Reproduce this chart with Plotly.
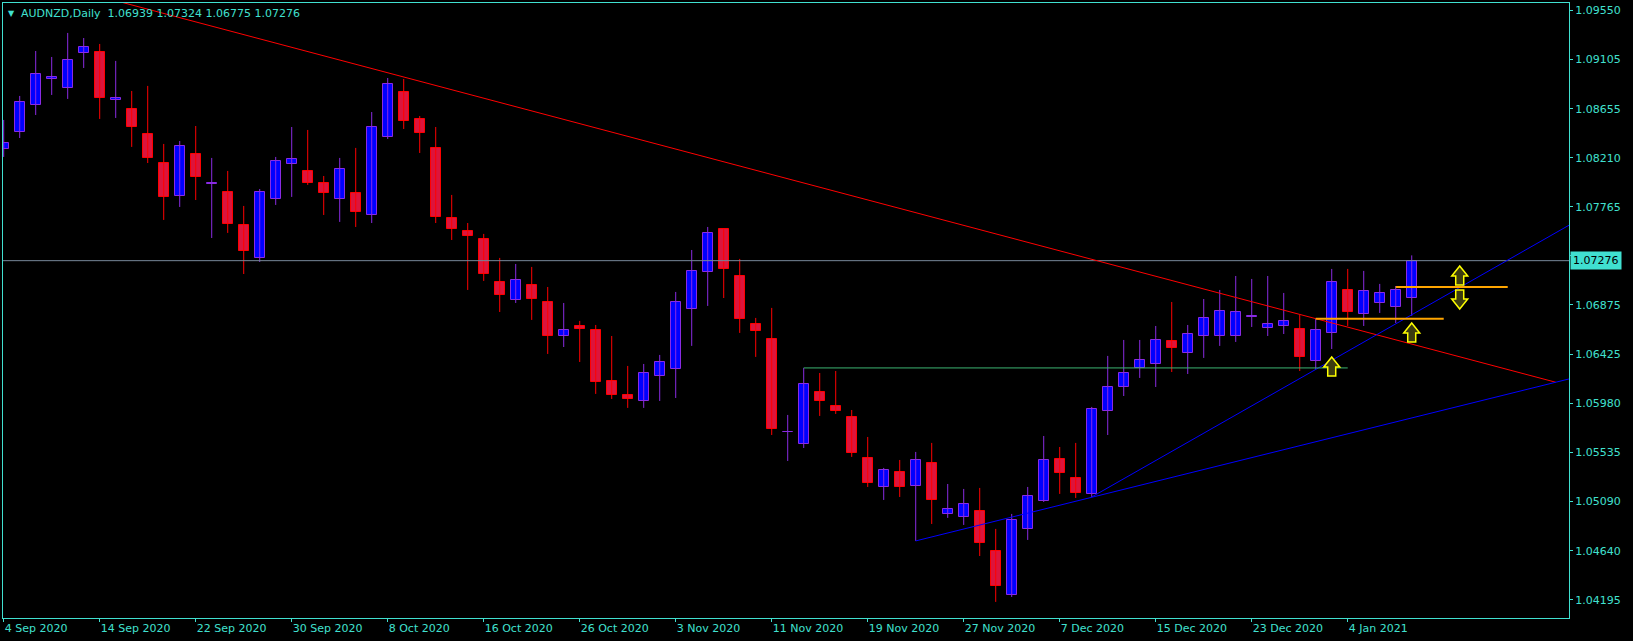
import plotly.graph_objects as go

# ---------------- data ----------------
symbol_title = "AUDNZD,Daily"
last_ohlc = ["1.06939", "1.07324", "1.06775", "1.07276"]

open_ = [1.08290, 1.08445, 1.08690, 1.08926, 1.08844, 1.09162, 1.09171, 1.08735, 1.08654, 1.08427,
         1.08163, 1.07864, 1.08245, 1.07973, 1.07900, 1.07600, 1.07301, 1.07836, 1.08154, 1.08091,
         1.07982, 1.07836, 1.07891, 1.07691, 1.08399, 1.08808, 1.08563, 1.08300, 1.07664, 1.07546,
         1.07473, 1.07083, 1.06919, 1.07055, 1.06901, 1.06592, 1.06683, 1.06647, 1.06184, 1.06057,
         1.06002, 1.06229, 1.06293, 1.06838, 1.07173, 1.07564, 1.07137, 1.06701, 1.06565, 1.05716,
         1.05611, 1.06084, 1.05957, 1.05857, 1.05484, 1.05221, 1.05357, 1.05230, 1.05439, 1.04976,
         1.04949, 1.05003, 1.04640, 1.04240, 1.04840, 1.05094, 1.05475, 1.05303, 1.05158, 1.05911,
         1.06129, 1.06302, 1.06338, 1.06547, 1.06438, 1.06592, 1.06592, 1.06592, 1.06769, 1.06665,
         1.06683, 1.06656, 1.06365, 1.06620, 1.07010, 1.06792, 1.06892, 1.06856, 1.06939]
high = [1.08554, 1.08772, 1.09180, 1.09126, 1.09344, 1.09298, 1.09244, 1.09090, 1.08817, 1.08863,
        1.08336, 1.08363, 1.08499, 1.08209, 1.08091, 1.07773, 1.07927, 1.08218, 1.08490, 1.08463,
        1.08045, 1.08209, 1.08300, 1.08626, 1.08935, 1.08926, 1.08590, 1.08490, 1.07873, 1.07618,
        1.07519, 1.07301, 1.07246, 1.07219, 1.07037, 1.06892, 1.06729, 1.06692, 1.06592, 1.06320,
        1.06338, 1.06420, 1.06992, 1.07373, 1.07582, 1.07568, 1.07292, 1.06756, 1.06847, 1.05875,
        1.06302, 1.06256, 1.06274, 1.05920, 1.05675, 1.05394, 1.05466, 1.05539, 1.05621, 1.05248,
        1.05203, 1.05212, 1.04840, 1.04976, 1.05221, 1.05684, 1.05584, 1.05621, 1.05948, 1.06411,
        1.06556, 1.06556, 1.06683, 1.06901, 1.06692, 1.06928, 1.07010, 1.07137, 1.07110, 1.07137,
        1.06983, 1.06783, 1.06747, 1.07201, 1.07201, 1.07183, 1.07065, 1.07046, 1.07324]
low = [1.08218, 1.08390, 1.08599, 1.08781, 1.08745, 1.09026, 1.08563, 1.08572, 1.08309, 1.08163,
       1.07646, 1.07764, 1.07827, 1.07482, 1.07528, 1.07155, 1.07264, 1.07782, 1.07855, 1.07964,
       1.07691, 1.07628, 1.07582, 1.07618, 1.08381, 1.08472, 1.08254, 1.07618, 1.07464, 1.07010,
       1.07092, 1.06810, 1.06892, 1.06738, 1.06429, 1.06492, 1.06356, 1.06066, 1.06020, 1.05939,
       1.05939, 1.06002, 1.06029, 1.06502, 1.06865, 1.06937, 1.06620, 1.06402, 1.05693, 1.05457,
       1.05575, 1.05866, 1.05884, 1.05494, 1.05221, 1.05103, 1.05130, 1.04731, 1.04885, 1.04940,
       1.04876, 1.04594, 1.04177, 1.04222, 1.04740, 1.05085, 1.05158, 1.05121, 1.05130, 1.05693,
       1.06047, 1.06211, 1.06129, 1.06265, 1.06247, 1.06393, 1.06502, 1.06538, 1.06674, 1.06592,
       1.06610, 1.06274, 1.06293, 1.06474, 1.06683, 1.06683, 1.06801, 1.06710, 1.06775]
close = [1.08345, 1.08717, 1.08972, 1.08944, 1.09099, 1.09217, 1.08754, 1.08754, 1.08490, 1.08209,
         1.07855, 1.08318, 1.08036, 1.07982, 1.07609, 1.07364, 1.07900, 1.08182, 1.08200, 1.07982,
         1.07891, 1.08109, 1.07718, 1.08490, 1.08881, 1.08545, 1.08436, 1.07673, 1.07564, 1.07500,
         1.07155, 1.06965, 1.07101, 1.06928, 1.06592, 1.06647, 1.06656, 1.06175, 1.06057, 1.06020,
         1.06256, 1.06356, 1.06901, 1.07183, 1.07528, 1.07201, 1.06747, 1.06638, 1.05748, 1.05721,
         1.06156, 1.06002, 1.05911, 1.05530, 1.05257, 1.05375, 1.05221, 1.05466, 1.05103, 1.05021,
         1.05067, 1.04713, 1.04322, 1.04921, 1.05139, 1.05466, 1.05348, 1.05167, 1.05929, 1.06129,
         1.06256, 1.06374, 1.06556, 1.06483, 1.06610, 1.06756, 1.06819, 1.06810, 1.06774, 1.06701,
         1.06729, 1.06402, 1.06647, 1.07083, 1.06810, 1.07001, 1.06983, 1.07010, 1.07276]

# x-axis labels (every 6th daily bar)
tick_bars = [0, 6, 12, 18, 24, 30, 36, 42, 48, 54, 60, 66, 72, 78, 84]
tick_labels = ["4 Sep 2020", "14 Sep 2020", "22 Sep 2020", "30 Sep 2020", "8 Oct 2020",
               "16 Oct 2020", "26 Oct 2020", "3 Nov 2020", "11 Nov 2020", "19 Nov 2020",
               "27 Nov 2020", "7 Dec 2020", "15 Dec 2020", "23 Dec 2020", "4 Jan 2021"]

price_ticks = [1.09550, 1.09105, 1.08655, 1.08210, 1.07765, 1.07320, 1.06875,
               1.06425, 1.05980, 1.05535, 1.05090, 1.04640, 1.04195]

bid_price = 1.07276

# drawn objects: (bar index, price) end points
red_trend_x, red_trend_y = [7, 97], [1.09637, 1.06172]
blue_steep_x, blue_steep_y = [68, 98], [1.05130, 1.07612]
blue_flat_x, blue_flat_y = [57, 98], [1.04731, 1.06208]
green_level_x, green_level_y = [50, 84], [1.06302, 1.06302]
orange1_x, orange1_y = [82, 90], [1.06749, 1.06749]
orange2_x, orange2_y = [87, 94], [1.07037, 1.07037]

arrow_x = [83, 88, 91, 91]
arrow_y = [1.06315, 1.06624, 1.07142, 1.06924]
arrow_dir = ["up", "up", "up", "down"]

# ---------------- styling ----------------
TURQ = "#40E0D0"
BULL_FILL, BULL_LINE = "#0000FF", "#8A2BE2"
BEAR_FILL, BEAR_LINE = "#DC143C", "#FF0000"
FONT = "DejaVu Sans"

idx = list(range(len(open_)))
is_bull = [c >= o for o, c in zip(open_, close)]

fig = go.Figure()

# wicks
for want, col in ((True, BULL_LINE), (False, BEAR_LINE)):
    xs, ys = [], []
    for i in idx:
        if is_bull[i] == want:
            xs += [i, i, None]
            ys += [low[i], high[i], None]
    fig.add_trace(go.Scatter(x=xs, y=ys, mode="lines", line=dict(color=col, width=1),
                             hoverinfo="skip", showlegend=False))

# bodies
fig.add_trace(go.Bar(
    x=idx,
    base=[min(o, c) for o, c in zip(open_, close)],
    y=[max(abs(c - o), 0.00003) for o, c in zip(open_, close)],
    width=0.62,
    marker=dict(color=[BULL_FILL if b else BEAR_FILL for b in is_bull],
                line=dict(color=[BULL_LINE if b else BEAR_LINE for b in is_bull], width=1)),
    hoverinfo="skip", showlegend=False))

def add_line(x, y, color, width=1):
    fig.add_trace(go.Scatter(x=x, y=y, mode="lines", line=dict(color=color, width=width),
                             hoverinfo="skip", showlegend=False))

add_line([-1, 100], [bid_price, bid_price], "#778899")
add_line(red_trend_x, red_trend_y, "#FF0000")
add_line(blue_steep_x, blue_steep_y, "#0000FF")
add_line(blue_flat_x, blue_flat_y, "#0000FF")
add_line(green_level_x, green_level_y, "#3CB371")
add_line(orange1_x, orange1_y, "#FFA500", 2)
add_line(orange2_x, orange2_y, "#FFA500", 2)

UP_PATH = "M 0,9.5 L 8,-0.5 L 4,-0.5 L 4,-9.5 L -4,-9.5 L -4,-0.5 L -8,-0.5 Z"
DOWN_PATH = "M 0,-9.5 L 8,0.5 L 4,0.5 L 4,9.5 L -4,9.5 L -4,0.5 L -8,0.5 Z"
shapes = []
for ax_, ay_, d in zip(arrow_x, arrow_y, arrow_dir):
    shapes.append(dict(type="path", xref="x", yref="y", xsizemode="pixel", ysizemode="pixel",
                       xanchor=ax_, yanchor=ay_, path=UP_PATH if d == "up" else DOWN_PATH,
                       line=dict(color="#FFFF00", width=1.5), fillcolor="#3c3c10", layer="above"))

annotations = [
    dict(xref="paper", yref="paper", x=0, y=1, xanchor="left", yanchor="middle",
         xshift=3, yshift=-10, text="▼", showarrow=False,
         font=dict(family=FONT, size=8, color=TURQ)),
    dict(xref="paper", yref="paper", x=0, y=1, xanchor="left", yanchor="middle",
         xshift=16, yshift=-10,
         text=symbol_title + "\u00a0\u00a0" + "\u00a0".join(last_ohlc),
         showarrow=False, font=dict(family=FONT, size=11, color=TURQ)),
    dict(xref="paper", yref="y", x=1, y=bid_price, xanchor="left", yanchor="middle",
         xshift=1, text=f"{bid_price:.5f}", showarrow=False, bgcolor=TURQ, borderpad=2,
         font=dict(family=FONT, size=11, color="#000000")),
]

fig.update_layout(
    width=1633, height=641,
    margin=dict(l=3, r=64, t=3, b=23),
    paper_bgcolor="#000000", plot_bgcolor="#000000",
    showlegend=False, bargap=0,
    shapes=shapes, annotations=annotations,
    xaxis=dict(range=[-0.044, 97.83], showgrid=False, zeroline=False,
               tickvals=tick_bars, ticktext=tick_labels, ticklabelposition="outside right",
               ticks="outside", ticklen=3, tickcolor=TURQ,
               tickfont=dict(family=FONT, size=11, color=TURQ),
               showline=True, mirror=True, linecolor=TURQ, linewidth=1, fixedrange=True),
    yaxis=dict(range=[1.04031, 1.09616], side="right", showgrid=False, zeroline=False,
               tickvals=price_ticks, ticktext=[f"{p:.5f}" for p in price_ticks],
               ticks="outside", ticklen=3, tickcolor=TURQ,
               tickfont=dict(family=FONT, size=11, color=TURQ),
               showline=True, mirror=True, linecolor=TURQ, linewidth=1, fixedrange=True),
)

fig.write_html("out.html", config={"displayModeBar": False},
               post_script="document.body.style.margin='0px';document.body.style.background='#000';")
